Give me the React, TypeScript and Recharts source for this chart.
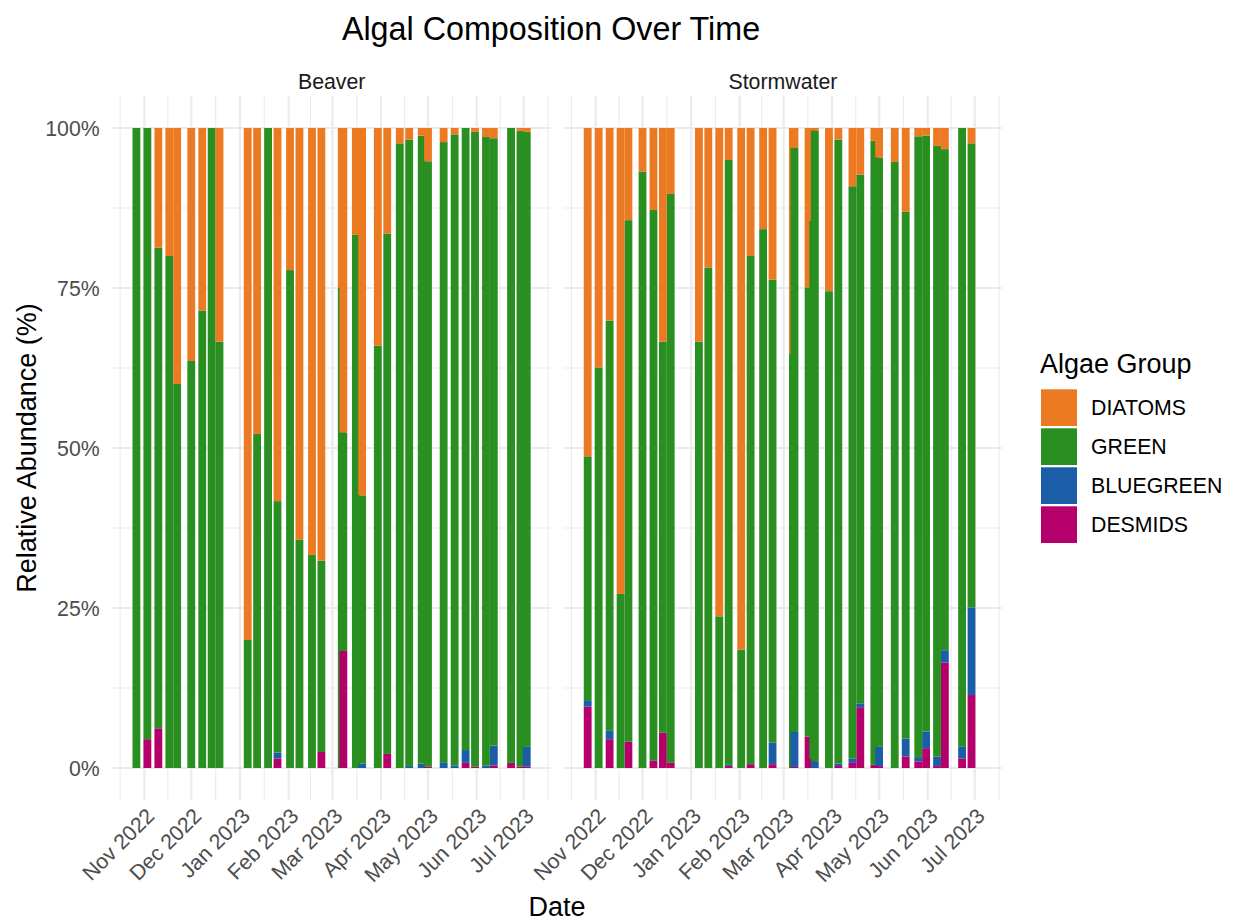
import React from 'react';
import { Bar, BarChart, CartesianGrid, XAxis, YAxis } from 'recharts';

// sampling dates and relative abundance (%) per algae group
const beaverDates = [
  '2022-10-27', '2022-11-03', '2022-11-10', '2022-11-17', '2022-11-22', '2022-12-01', '2022-12-08', '2022-12-14', '2022-12-19',
  '2023-01-06', '2023-01-12', '2023-01-19', '2023-01-25', '2023-02-02', '2023-02-08', '2023-02-16', '2023-02-22',
  '2023-03-07', '2023-03-08', '2023-03-16', '2023-03-20', '2023-03-30', '2023-04-05', '2023-04-13', '2023-04-19',
  '2023-04-27', '2023-05-01', '2023-05-11', '2023-05-18', '2023-05-25', '2023-05-31', '2023-06-07', '2023-06-12',
  '2023-06-23', '2023-06-29', '2023-07-03',
];
const beaverDesmids = [0, 4.5, 6.2, 0, 0, 0, 0, 0, 0, 0, 0, 0, 1.5, 0, 0, 0, 2.5, 0, 18.3, 0, 0, 0, 2.2, 0, 0, 0, 0.2, 0, 0, 0.8, 0.2, 0, 0.4, 0.8, 0.2, 0.2];
const beaverBluegreen = [0, 0, 0, 0, 0, 0, 0, 0, 0, 0, 0, 0, 0.9, 0, 0, 0, 0, 0, 0, 0, 0.7, 0, 0, 0, 0.3, 0.7, 0, 0.8, 0.4, 2.0, 0, 0.4, 3.1, 0, 0, 3.1];
const beaverGreen = [100, 95.5, 75.1, 80.0, 60.0, 63.6, 71.5, 100, 66.6, 20.0, 52.2, 100, 39.3, 77.8, 35.7, 33.3, 29.9, 75.0, 34.1, 83.3, 41.9, 66.0, 81.3, 97.6, 97.9, 98.1, 94.6, 97.0, 98.6, 97.2, 99.2, 98.2, 94.9, 99.2, 99.4, 96.1];
const beaverDiatoms = [0, 0, 18.7, 20.0, 40.0, 36.4, 28.5, 0, 33.4, 80.0, 47.8, 0, 58.3, 22.2, 64.3, 66.7, 67.6, 25.0, 47.6, 16.7, 57.4, 34.0, 16.5, 2.4, 1.8, 1.2, 5.2, 2.2, 1.0, 0, 0.6, 1.4, 1.6, 0, 0.4, 0.6];

const stormDates = [
  '2022-10-27', '2022-11-03', '2022-11-10', '2022-11-17', '2022-11-22', '2022-12-01', '2022-12-08', '2022-12-14', '2022-12-19',
  '2023-01-06', '2023-01-12', '2023-01-19', '2023-01-25', '2023-02-02', '2023-02-08', '2023-02-16', '2023-02-22',
  '2023-03-07', '2023-03-08', '2023-03-17', '2023-03-20', '2023-03-21', '2023-03-30', '2023-04-05', '2023-04-14',
  '2023-04-19', '2023-04-28', '2023-05-01', '2023-05-11', '2023-05-18', '2023-05-26', '2023-05-31', '2023-06-07',
  '2023-06-12', '2023-06-23', '2023-06-29',
];
const stormDesmids = [9.6, 0, 4.5, 0, 4.1, 0, 1.2, 5.5, 0.8, 0, 0, 0, 0.3, 0, 0.6, 0, 0.6, 0, 0.2, 4.9, 1.4, 0, 0, 0.3, 0.8, 9.5, 0.5, 0.3, 0, 1.8, 1.0, 3.1, 0.3, 16.5, 1.5, 11.4];
const stormBluegreen = [1.0, 0, 1.3, 0, 0, 0, 0, 0, 0, 0, 0, 0, 0.2, 0, 0, 0, 3.4, 0, 5.5, 0, 0, 1.0, 0, 0.4, 0.7, 0.6, 0, 3.0, 0, 2.8, 0.7, 2.6, 1.5, 1.9, 1.8, 13.7];
const stormGreen = [38.1, 62.6, 64.1, 27.2, 81.5, 93.2, 86.0, 61.1, 88.9, 66.6, 78.2, 23.7, 94.5, 18.5, 79.4, 84.2, 72.3, 64.7, 91.2, 70.2, 84.1, 98.6, 74.5, 97.5, 89.4, 82.6, 97.5, 92.1, 94.7, 82.3, 97.0, 93.1, 95.4, 78.3, 96.7, 72.5];
const stormDiatoms = [51.3, 37.4, 30.1, 72.8, 14.4, 6.8, 12.8, 33.4, 10.3, 33.4, 21.8, 76.3, 5.0, 81.5, 20.0, 15.8, 23.7, 35.3, 3.1, 24.9, 14.5, 0.4, 25.5, 1.8, 9.1, 7.3, 2.0, 4.6, 5.3, 13.1, 1.3, 1.2, 2.8, 3.3, 0, 2.4];

const groups = ['DIATOMS', 'GREEN', 'BLUEGREEN', 'DESMIDS'];
const groupColors: Record<string, string> = {
  DIATOMS: '#EC7A22',
  GREEN: '#2A8F21',
  BLUEGREEN: '#1B5EA7',
  DESMIDS: '#B5006B',
};
// bottom-to-top stacking order
const stackOrder = ['DESMIDS', 'BLUEGREEN', 'GREEN', 'DIATOMS'];

const monthBreaks = [
  '2022-10-01', '2022-11-01', '2022-12-01', '2023-01-01', '2023-02-01', '2023-03-01',
  '2023-04-01', '2023-05-01', '2023-06-01', '2023-07-01', '2023-08-01',
];
const yTicks = [0, 25, 50, 75, 100];
const yMinorTicks = [12.5, 37.5, 62.5, 87.5];
const monthNames = ['Jan', 'Feb', 'Mar', 'Apr', 'May', 'Jun', 'Jul', 'Aug', 'Sep', 'Oct', 'Nov', 'Dec'];

const DAY = 86400000;
const BAR_DAYS = 5;
const LAYERS = 3;
const toMs = (s: string) => Date.parse(s + 'T00:00:00Z');

const allTimes = [...beaverDates, ...stormDates].map(toMs);
const lo = Math.min(...allTimes) - (BAR_DAYS / 2) * DAY;
const hi = Math.max(...allTimes) + (BAR_DAYS / 2) * DAY;
const pad = (hi - lo) * 0.05;
const xDomain: [number, number] = [lo - pad, hi + pad];
const yDomain: [number, number] = [-5, 105];

const breakMs = monthBreaks.map(toMs);
const majorTicks = breakMs.filter((t) => t >= xDomain[0] && t <= xDomain[1]);
const minorTicks = breakMs
  .slice(1)
  .map((t, i) => (t + breakMs[i]) / 2)
  .filter((t) => t >= xDomain[0] && t <= xDomain[1]);

const PLOT_TOP = 96;
const PLOT_BOTTOM = 800;
const CHART_H = 922;
const PLOT_W = 438;
const barSize = (BAR_DAYS * DAY * PLOT_W) / (xDomain[1] - xDomain[0]);

const FONT = '"Liberation Sans", Arial, Helvetica, sans-serif';

function buildRows(dates: string[], desmids: number[], bluegreen: number[], green: number[], diatoms: number[]) {
  const rows: Record<string, number>[] = [];
  let prevT = -Infinity;
  let prevLayer = -1;
  dates.forEach((d, i) => {
    const t = toMs(d);
    // bars that overlap the previous one go on a higher layer so they are drawn over it
    const layer = t - prevT < BAR_DAYS * DAY ? Math.min(prevLayer + 1, LAYERS - 1) : 0;
    const row: Record<string, number> = { t };
    for (let k = 0; k < LAYERS; k++) {
      groups.forEach((g) => {
        row[`${g}_${k}`] = 0;
      });
    }
    row[`DESMIDS_${layer}`] = desmids[i];
    row[`BLUEGREEN_${layer}`] = bluegreen[i];
    row[`GREEN_${layer}`] = green[i];
    row[`DIATOMS_${layer}`] = diatoms[i];
    rows.push(row);
    prevT = t;
    prevLayer = layer;
  });
  return rows;
}

const beaverRows = buildRows(beaverDates, beaverDesmids, beaverBluegreen, beaverGreen, beaverDiatoms);
const stormRows = buildRows(stormDates, stormDesmids, stormBluegreen, stormGreen, stormDiatoms);

const formatMonth = (ms: number) => {
  const d = new Date(ms);
  return `${monthNames[d.getUTCMonth()]} ${d.getUTCFullYear()}`;
};

function DateTick(props: any) {
  const { x, y, payload } = props;
  return (
    <text
      x={x}
      y={y}
      dy="0.75em"
      textAnchor="end"
      fill="#4D4D4D"
      fontSize={21.3}
      transform={`rotate(-45 ${x} ${y})`}
    >
      {formatMonth(payload.value)}
    </text>
  );
}

// recharts squeezes the band on a numeric axis, so keep the bar centred and give it the date width
function DateBar(props: any) {
  const { x, y, width, height, fill } = props;
  if (!height || height <= 0) return null;
  const cx = x + width / 2;
  return <rect x={cx - barSize / 2} y={y} width={barSize} height={height} fill={fill} />;
}

interface FacetProps {
  rows: Record<string, number>[];
  left: number;
  width: number;
  marginLeft: number;
  marginRight: number;
  showY: boolean;
}

function Facet({ rows, left, width, marginLeft, marginRight, showY }: FacetProps) {
  const bars: React.ReactNode[] = [];
  for (let k = 0; k < LAYERS; k++) {
    stackOrder.forEach((g) => {
      bars.push(
        <Bar
          key={`${g}_${k}`}
          dataKey={`${g}_${k}`}
          stackId="a"
          fill={groupColors[g]}
          shape={(p: any) => <DateBar {...p} />}
          isAnimationActive={false}
        />,
      );
    });
  }
  return (
    <div style={{ position: 'absolute', left, top: 0 }}>
      <BarChart
        width={width}
        height={CHART_H}
        data={rows}
        margin={{ top: PLOT_TOP, right: marginRight, bottom: 0, left: marginLeft }}
      >
        <XAxis xAxisId="minor" dataKey="t" type="number" domain={xDomain} allowDataOverflow ticks={minorTicks} interval={0} hide />
        <YAxis yAxisId="minor" type="number" domain={yDomain} allowDataOverflow ticks={yMinorTicks} interval={0} hide />
        <CartesianGrid xAxisId="minor" yAxisId="minor" syncWithTicks stroke="#EBEBEB" strokeWidth={1.1} />
        <CartesianGrid syncWithTicks stroke="#EBEBEB" strokeWidth={2.2} />
        <XAxis
          dataKey="t"
          type="number"
          domain={xDomain}
          allowDataOverflow
          ticks={majorTicks}
          interval={0}
          height={CHART_H - PLOT_BOTTOM}
          axisLine={false}
          tickLine={false}
          tickSize={0}
          tickMargin={6}
          tick={(p: any) => <DateTick {...p} />}
        />
        <YAxis
          type="number"
          domain={yDomain}
          allowDataOverflow
          ticks={yTicks}
          interval={0}
          hide={!showY}
          width={showY ? 112.7 : 0}
          axisLine={false}
          tickLine={false}
          tickSize={0}
          tickMargin={13}
          tickFormatter={(v: number) => `${v}%`}
          tick={{ fill: '#4D4D4D', fontSize: 21.3 }}
        />
        {bars}
      </BarChart>
    </div>
  );
}

export default function App() {
  return (
    <div
      style={{
        position: 'absolute',
        left: 0,
        top: 0,
        width: 1235,
        height: 922,
        background: '#fff',
        fontFamily: FONT,
        overflow: 'hidden',
      }}
    >
      <Facet rows={beaverRows} left={0} width={560} marginLeft={0} marginRight={560 - 550.7} showY />
      <Facet rows={stormRows} left={484} width={530} marginLeft={80} marginRight={530 - 80 - 437.7} showY={false} />
      <svg width={1235} height={922} style={{ position: 'absolute', left: 0, top: 0, pointerEvents: 'none' }}>
        <text x={551} y={39.5} textAnchor="middle" fontSize={32.3} fill="#000">
          Algal Composition Over Time
        </text>
        <text x={331.7} y={89} textAnchor="middle" fontSize={21.3} fill="#1A1A1A">
          Beaver
        </text>
        <text x={782.9} y={89} textAnchor="middle" fontSize={21.3} fill="#1A1A1A">
          Stormwater
        </text>
        <text x={36} y={448} textAnchor="middle" fontSize={27} fill="#000" transform="rotate(-90 36 448)">
          Relative Abundance (%)
        </text>
        <text x={557} y={916} textAnchor="middle" fontSize={27} fill="#000">
          Date
        </text>
        <text x={1040} y={373.3} fontSize={27} fill="#000">
          Algae Group
        </text>
        {groups.map((g, i) => (
          <g key={g}>
            <rect x={1041} y={389.3 + i * 39} width={36} height={36.7} fill={groupColors[g]} />
            <text x={1091} y={407.7 + i * 39 + 7.6} fontSize={21.3} fill="#000">
              {g}
            </text>
          </g>
        ))}
      </svg>
    </div>
  );
}
